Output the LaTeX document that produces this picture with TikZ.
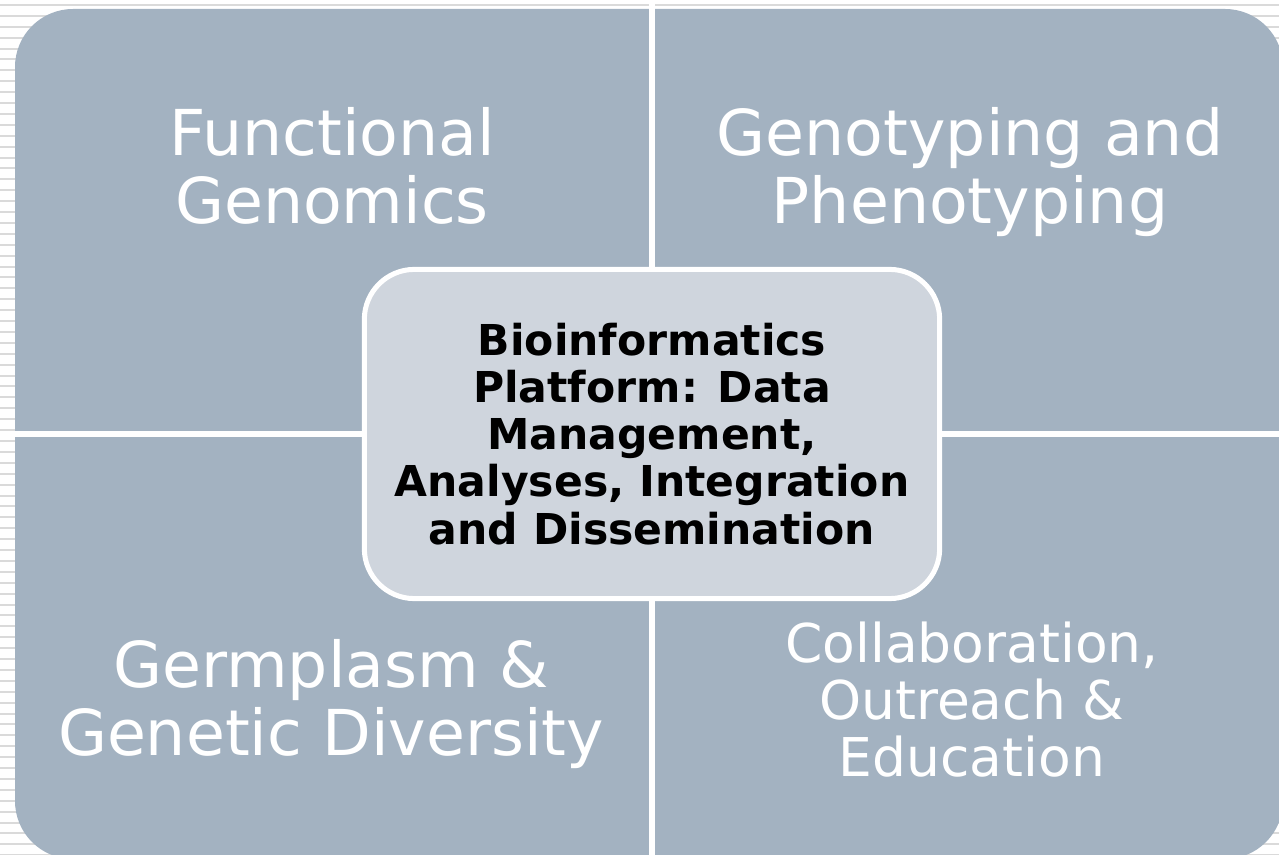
\documentclass[tikz,border=0pt]{standalone}
\usepackage{fontspec}
\setmainfont{DejaVu Sans}
\definecolor{quadfill}{HTML}{A3B2C1}
\definecolor{hubfill}{HTML}{CFD5DD}
\definecolor{stripe}{HTML}{DADADA}
\tikzset{
	quadtext/.style={text=white, align=center, font=\fontsize{18}{19.4}\selectfont},
	hubbox/.style={fill=hubfill, draw=white, line width=0.05cm, rounded corners=0.5cm, minimum width=5.75cm, minimum height=3.29cm, align=center, font=\bfseries\fontsize{12.1}{13.4}\selectfont}
}
\begin{document}
\begin{tikzpicture}[x=0.01cm, y=-0.01cm]
	\useasboundingbox (0,0) rectangle (1279,855);
	\clip (0,0) rectangle (1279,855);
	\fill[white] (0,0) rectangle (1279,855);
	\foreach \k in {0,...,78} {
		\fill[stripe] (0,4+10.9*\k) rectangle (1279,6+10.9*\k);
	}
	\fill[quadfill, rounded corners=0.58cm] (15,9) rectangle (1283,859);
	\fill[white] (649,0) rectangle (655,855);
	\fill[white] (0,431) rectangle (1279,437);
	\node[quadtext] (funcgen) at (332,166) {Functional\\Genomics};
	\node[quadtext] (genophen) at (970,172) {Genotyping and\\Phenotyping};
	\node[quadtext] (germdiv) at (331,704) {Germplasm \&\\Genetic Diversity};
	\node[quadtext, font=\fontsize{15.2}{16.2}\selectfont] (collab) at (972,700) {Collaboration,\\Outreach \&\\Education};
	\node[hubbox] (hub) at (652,434) {Bioinformatics\\Platform: Data\\Management,\\Analyses, Integration\\and Dissemination};
\end{tikzpicture}
\end{document}
